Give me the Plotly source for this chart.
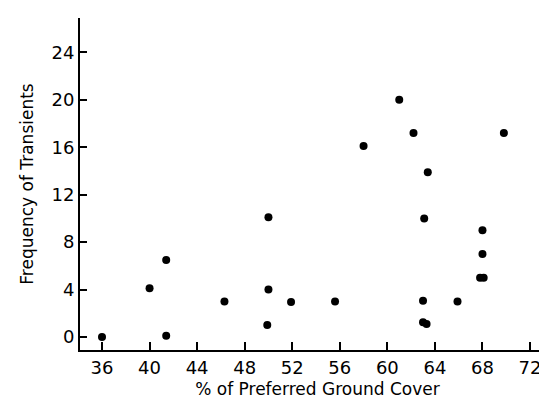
import plotly.graph_objects as go

ground_cover = [36.0, 40.0, 41.4, 41.4, 46.3, 50.0, 50.0, 49.9, 51.9, 55.6,
                58.0, 61.0, 62.2, 63.4, 63.1, 63.0, 63.0, 63.3, 65.9,
                68.0, 68.0, 67.8, 68.1, 69.8]
transients = [0.0, 4.1, 6.5, 0.1, 3.0, 10.1, 4.0, 1.0, 2.95, 3.0,
              16.1, 20.0, 17.2, 13.9, 10.0, 3.05, 1.25, 1.1, 3.0,
              9.0, 7.0, 5.0, 5.0, 17.2]

x_ticks = [36, 40, 44, 48, 52, 56, 60, 64, 68, 72]
y_ticks = [0, 4, 8, 12, 16, 20, 24]

FONT = "DejaVu Sans"

fig = go.Figure(
    go.Scatter(
        x=ground_cover,
        y=transients,
        mode="markers",
        marker=dict(size=8, color="black"),
        showlegend=False,
    )
)

fig.update_layout(
    width=547,
    height=403,
    margin=dict(l=72, r=0, t=10, b=61),
    paper_bgcolor="white",
    plot_bgcolor="white",
    font=dict(family=FONT, size=17, color="black"),
)

fig.update_xaxes(
    range=[34.15, 74.1],
    tickmode="array",
    tickvals=x_ticks,
    ticktext=[str(v) for v in x_ticks],
    ticks="inside",
    ticklen=8,
    tickwidth=1.5,
    tickcolor="black",
    showline=True,
    linecolor="black",
    linewidth=2,
    showgrid=False,
    zeroline=False,
    automargin=False,
    tickfont=dict(family=FONT, size=18),
    title=dict(text="% of Preferred Ground Cover", font=dict(family=FONT, size=17), standoff=7),
)

fig.update_yaxes(
    range=[-1.1, 26.9],
    tickmode="array",
    tickvals=y_ticks,
    ticktext=[str(v) for v in y_ticks],
    ticks="inside",
    ticklen=7,
    tickwidth=1.5,
    tickcolor="black",
    showline=True,
    linecolor="black",
    linewidth=2,
    showgrid=False,
    zeroline=False,
    automargin=False,
    tickfont=dict(family=FONT, size=18),
    title=dict(text="Frequency of Transients", font=dict(family=FONT, size=17), standoff=14),
)

fig.write_html("out.html")
